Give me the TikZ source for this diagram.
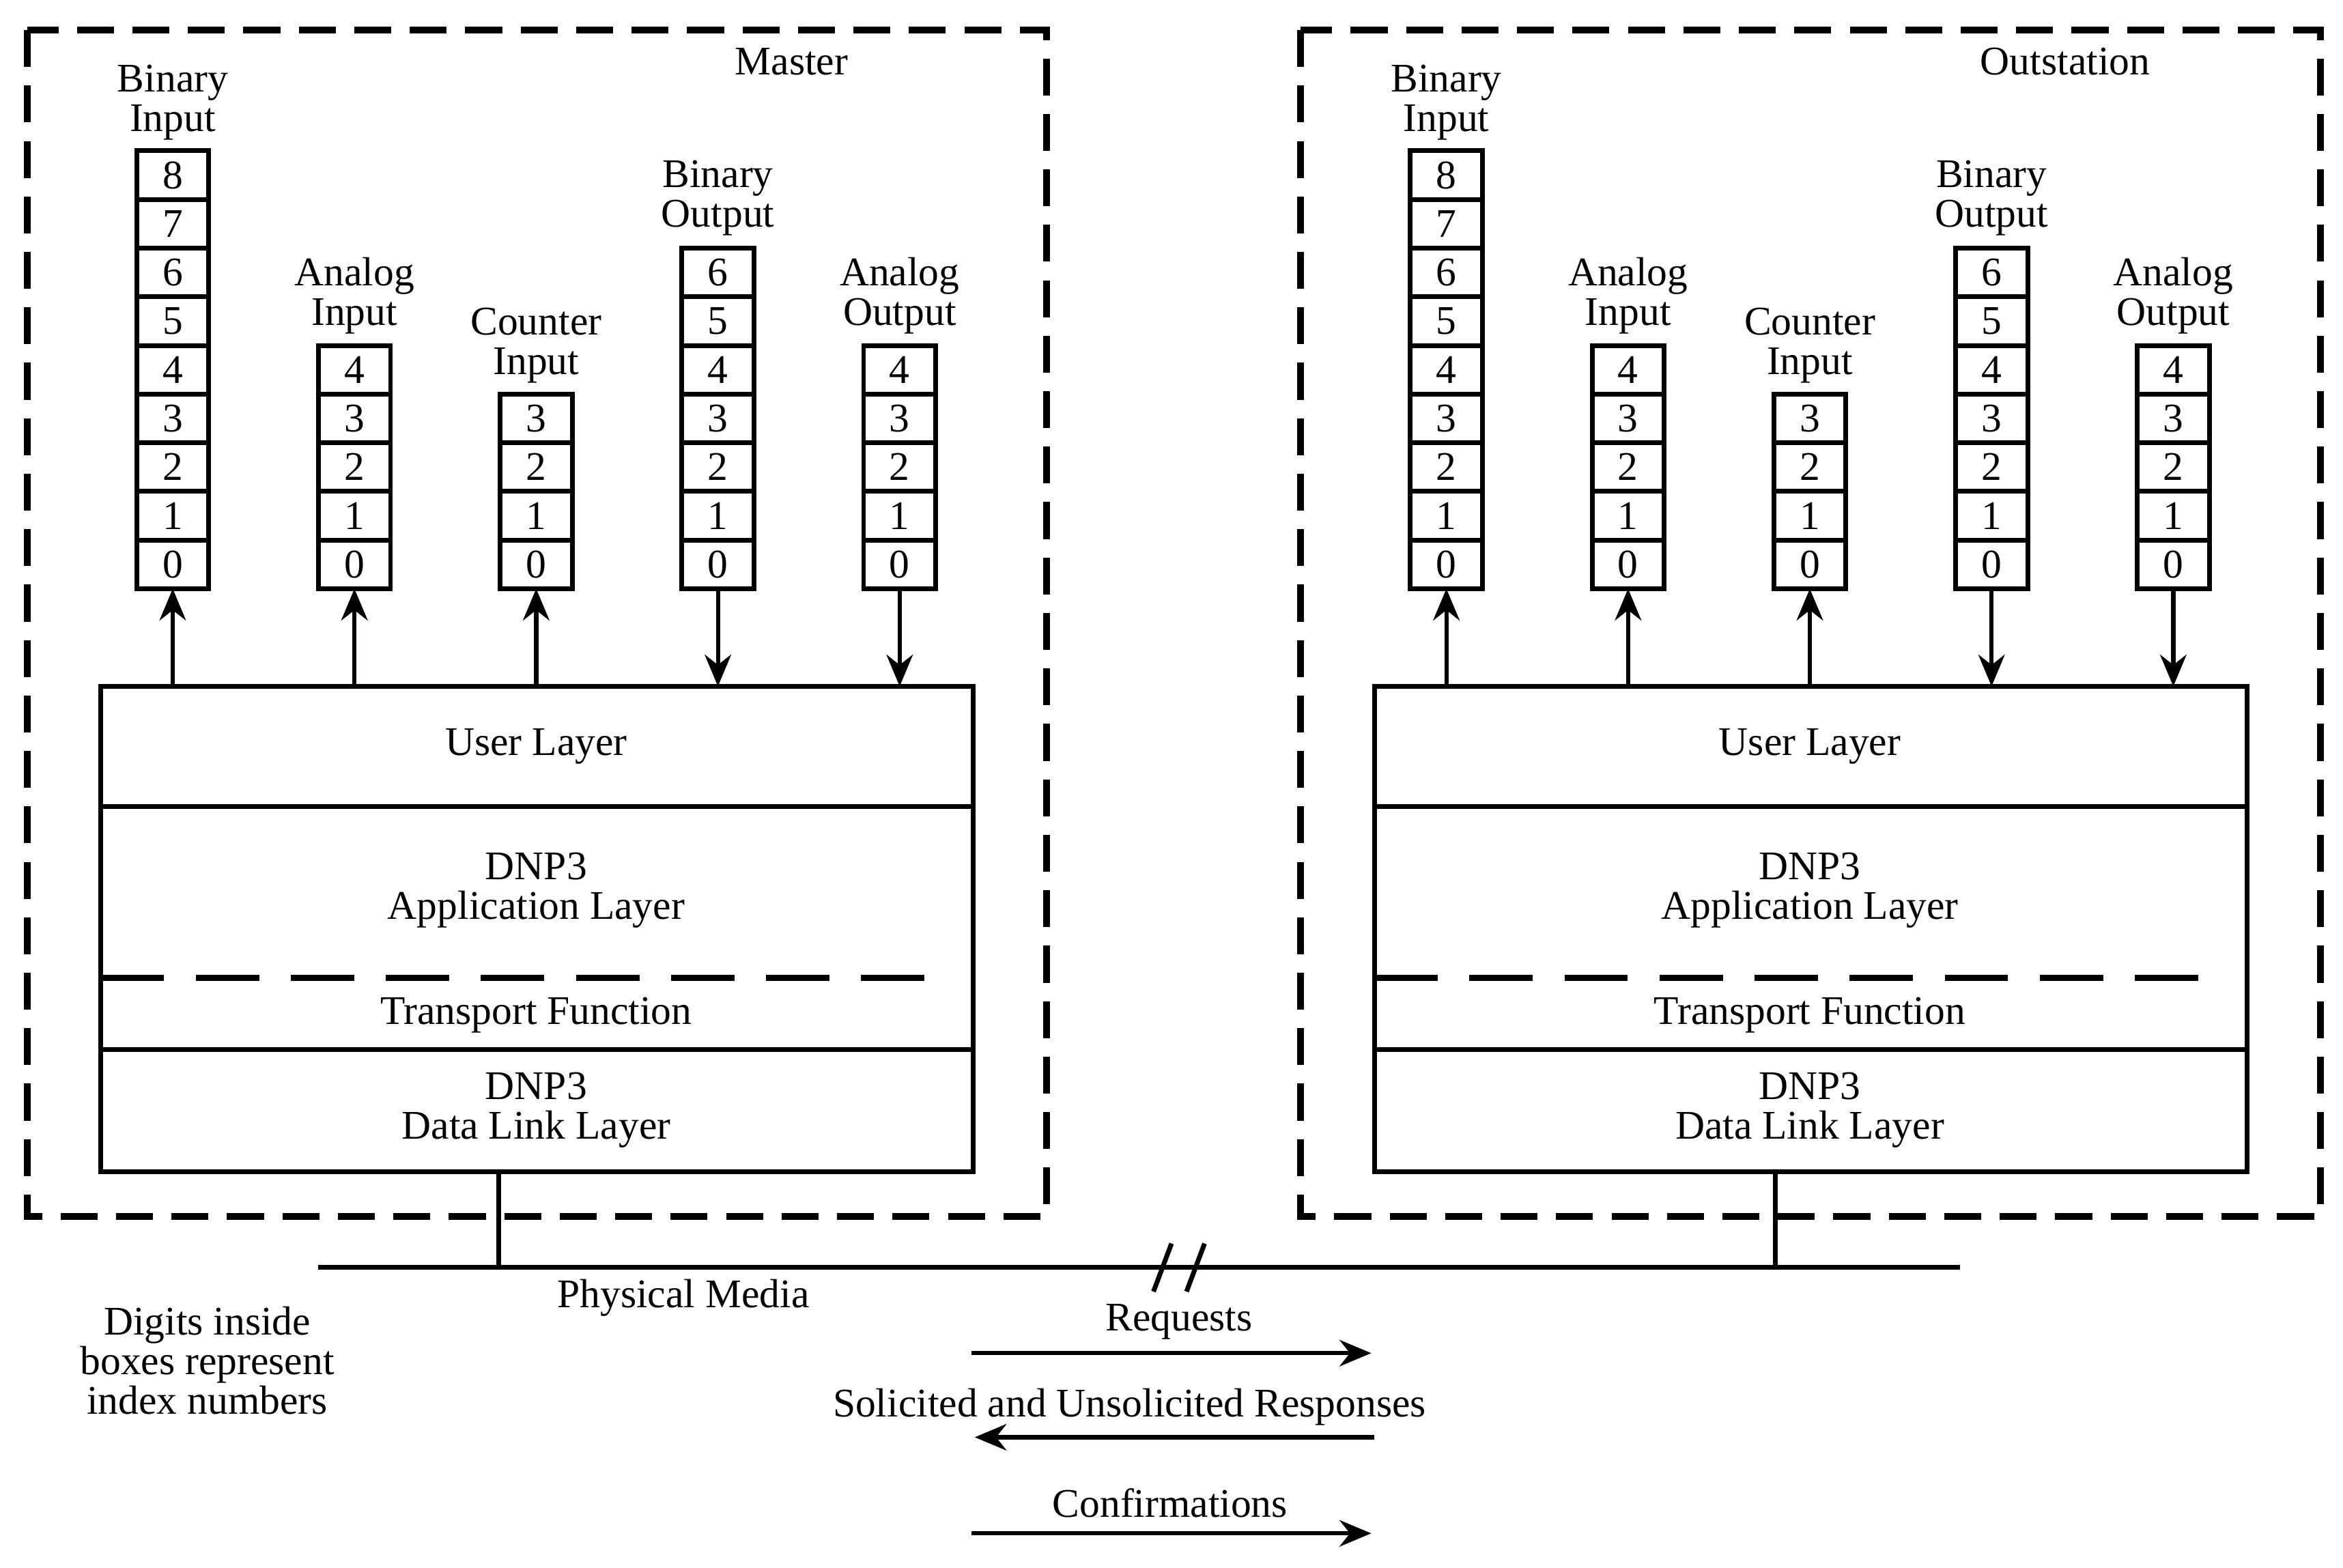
\documentclass[tikz,border=0pt]{standalone}
\usepackage{fontspec}
\setmainfont{Liberation Serif}
\usetikzlibrary{arrows.meta}
\begin{document}
\begin{tikzpicture}[x=0.01cm,y=-0.01cm,
  txt/.style={font=\fontsize{7.7}{7.5}\selectfont,align=center,inner sep=0pt},
  frame/.style={draw,line width=1.3pt,dash pattern=on 7pt off 3.5pt},
  arr/.style={line width=0.8pt,-{Stealth[length=6pt,width=5pt]}}]
\useasboundingbox (0,0) rectangle (1560,1044);
\def\ch{32.4}
\foreach \off/\nm/\lab in {0/M/Master,848/O/Outstation}{
  \begin{scope}[xshift=\off*0.01cm]
  \draw[frame] (18,20) rectangle (697,810);
  \node[txt] (\nm title) at (527,41) {\lab};
  \draw[line width=0.9pt] (67,457) rectangle (648,780);
  \draw[line width=0.9pt] (67,537) -- (648,537);
  \draw[line width=0.9pt] (67,699) -- (648,699);
  \draw[line width=1.1pt,dash pattern=on 12pt off 6pt] (67,651) -- (628,651);
  \node[txt] (\nm ul) at (357,497) {User Layer};
  \node[txt] (\nm al) at (357,593) {DNP3\\Application Layer};
  \node[txt] (\nm tf) at (357,676) {Transport Function};
  \node[txt] (\nm dl) at (357,739) {DNP3\\Data Link Layer};
  \coordinate (\nm bus) at (332,780);
  \foreach \c/\n/\la/\ly in {115/8/{Binary\\Input}/68,236/4/{Analog\\Input}/197,357/3/{Counter\\Input}/230,478/6/{Binary\\Output}/132,599/4/{Analog\\Output}/197}{
    \node[txt] (\nm l\c) at (\c,\ly) {\la};
    \foreach \i in {0,...,\n}{
      \draw[line width=0.9pt] (\c-24,392-\i*\ch-\ch) rectangle (\c+24,392-\i*\ch);
      \node[txt] (\nm c\c i\i) at (\c,392-\i*\ch-\ch/2) {\i};
    }
    \coordinate (\nm s\c) at (\c,457);
    \coordinate (\nm b\c) at (\c,392);
  }
  \foreach \c in {115,236,357}{\draw[arr] (\nm s\c) -- (\nm b\c);}
  \foreach \c in {478,599}{\draw[arr] (\nm b\c) -- (\nm s\c);}
  \end{scope}
}
\coordinate (p1) at (212,844); \coordinate (p2) at (1305,844);
\coordinate (mb) at (332,844); \coordinate (ob) at (1182,844);
\coordinate (obt) at (1182,780);
\draw[line width=0.9pt] (p1) -- (p2);
\draw[line width=0.9pt] (Mbus) -- (mb);
\draw[line width=0.9pt] (obt) -- (ob);
\draw[line width=0.9pt] (768,860) -- (780,828) (790,860) -- (802,828);
\node[txt] (pm) at (455,864) {Physical Media};
\node[txt] (dg) at (138,906) {Digits inside\\boxes represent\\index numbers};
\node[txt] (rq) at (785,880) {Requests};
\node[txt] (sr) at (752,937) {Solicited and Unsolicited Responses};
\node[txt] (cf) at (779,1001) {Confirmations};
\coordinate (a1) at (647,901); \coordinate (a2) at (913,901);
\coordinate (b1) at (915,957); \coordinate (b2) at (649,957);
\coordinate (c1) at (647,1021); \coordinate (c2) at (913,1021);
\draw[arr] (a1) -- (a2);
\draw[arr] (b1) -- (b2);
\draw[arr] (c1) -- (c2);
\end{tikzpicture}
\end{document}
